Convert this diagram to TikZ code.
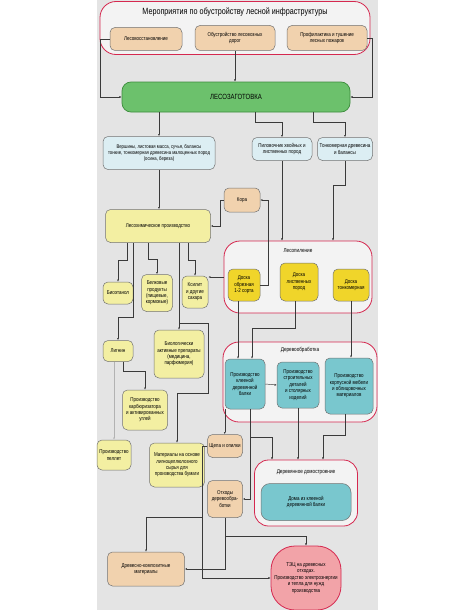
\documentclass[tikz,border=0pt]{standalone}
\usepackage{fontspec}
\setmainfont{Liberation Sans}[FakeStretch=0.8]
\usetikzlibrary{positioning,arrows.meta}

\definecolor{bgcol}{HTML}{E4E4E4}
\definecolor{grpred}{HTML}{D5284F}
\definecolor{grpfill}{HTML}{F3F3F3}
\definecolor{tanfill}{HTML}{F1D2AE}
\definecolor{greenfill}{HTML}{6CC16C}
\definecolor{greenline}{HTML}{3C8C3C}
\definecolor{bluefill}{HTML}{DCEEF3}
\definecolor{yelfill}{HTML}{F3EFA2}
\definecolor{goldfill}{HTML}{F0D52A}
\definecolor{cyanfill}{HTML}{79C7CE}
\definecolor{tecfill}{HTML}{F2A3A8}
\definecolor{linecol}{HTML}{3A3A3A}

\tikzset{
  box/.style={draw=black!55,line width=0.5pt,rounded corners=5pt,align=center,
    inner sep=1pt,font=\fontsize{5.6}{6.4}\selectfont},
  sz/.style 2 args={minimum width=#1pt,minimum height=#2pt},
  tanbox/.style={box,fill=tanfill},
  bluebox/.style={box,fill=bluefill},
  yelbox/.style={box,fill=yelfill},
  goldbox/.style={box,fill=goldfill},
  cyanbox/.style={box,fill=cyanfill},
  greenbox/.style={box,fill=greenfill,draw=greenline,line width=0.7pt,rounded corners=9pt,
    font=\fontsize{7.5}{8}\selectfont},
  tecbox/.style={box,fill=tecfill,draw=grpred,line width=0.8pt,rounded corners=24pt},
  group/.style={draw=grpred,line width=0.8pt,fill=grpfill,rounded corners=16pt},
  grptitle/.style={font=\fontsize{5.8}{7}\selectfont},
  conn/.style={draw=linecol,line width=0.45pt,-{Latex[length=2.2pt,width=2pt]}},
  faint/.style={draw=black!30}
}

\begin{document}
\begin{tikzpicture}[x=1pt,y=-1pt]
  \useasboundingbox (0,0) rectangle (474,610);
  \fill[bgcol] (97,0) rectangle (378,610);

  % верхний блок
  \node[group,minimum width=270pt,minimum height=53pt] (meropr) at (235,28) {};
  \node[font=\fontsize{9}{10}\selectfont] (meroprT) at (235,12) {Мероприятия по обустройству лесной инфраструктуры};
  \node[tanbox,sz={72}{23}] (lesvos) at (146,39) {Лесовосстановление};
  \node[tanbox,sz={80}{25}] (dorogi) at (235,38) {Обустройство лесовозных\\дорог};
  \node[tanbox,sz={80}{25}] (pozhar) at (327,38) {Профилактика и тушение\\лесных пожаров};

  \node[greenbox,minimum width=228pt,minimum height=30pt] (zagot) at (236,97) {ЛЕСОЗАГОТОВКА};

  % сырье
  \node[bluebox,sz={112}{33},font=\fontsize{5.3}{6.2}\selectfont] (vershiny) at (159,153)
    {Вершины, листовая масса, сучья, балансы\\тонкие, тонкомерная древесина малоценных пород\\(осина, береза)};
  \node[bluebox,sz={60}{23}] (pilov) at (282,149) {Пиловочник хвойных и\\лиственных пород};
  \node[bluebox,sz={55}{23}] (tonkom) at (345,149) {Тонкомерная древесина\\и балансы};

  \node[tanbox,sz={36}{24}] (kora) at (242,200) {Кора};
  \node[yelbox,sz={105}{33}] (leschem) at (158,226) {Лесохимическое производство};

  % лесопиление
  \node[group,minimum width=148pt,minimum height=72pt] (lesopil) at (298,277) {};
  \node[grptitle] (lesopilT) at (298,251) {Лесопиление};
  \node[goldbox,sz={32}{32}] (doska1) at (244,285) {Доска\\обрезная\\1-2 сорта};
  \node[goldbox,sz={38}{38}] (doska2) at (299,282) {Доска\\лиственных\\пород};
  \node[goldbox,sz={36}{32}] (doska3) at (351,285) {Доска\\тонкомерная};

  % лесохимия
  \node[yelbox,sz={30}{22}] (bioet) at (118,293) {Биоэтанол};
  \node[yelbox,sz={31}{37}] (belok) at (157,293) {Белковые\\продукты\\(пищевые,\\кормовые)};
  \node[yelbox,sz={26}{32}] (ksilit) at (195,292) {Ксилит\\и другие\\сахара};
  \node[yelbox,sz={30}{21}] (lignin) at (118,351) {Лигнин};
  \node[yelbox,sz={50}{48}] (biolog) at (179,354) {Биологически\\активные препараты\\(медицина,\\парфюмерия)};
  \node[yelbox,sz={45}{40}] (karbon) at (145,410) {Производство\\карбюризатора\\и активированных\\углей};
  \node[yelbox,sz={34}{30}] (pellet) at (114,455) {Производство\\пеллет};
  \node[yelbox,sz={55}{44}] (mater) at (177,465) {Материалы на основе\\лигноцеллюлозного\\сырья для\\производства бумаги};

  % деревообработка
  \node[group,minimum width=154pt,minimum height=80pt] (obrab) at (300,382) {};
  \node[grptitle] (obrabT) at (300,350) {Деревообработка};
  \node[cyanbox,sz={40}{50}] (klee) at (245,384) {Производство\\клееной\\деревянной\\балки};
  \node[cyanbox,sz={42}{46}] (stroit) at (298,385) {Производство\\строительных\\деталей\\и столярных\\изделий};
  \node[cyanbox,sz={48}{56}] (korpus) at (349,386) {Производство\\корпусной мебели\\и облицовочных\\материалов};

  \node[tanbox,sz={35}{23}] (shchepa) at (225,446) {Щепа и опилки};
  \node[tanbox,sz={35}{37}] (othody) at (225,499) {Отходы\\деревообра-\\ботки};

  % домостроение
  \node[group,minimum width=103pt,minimum height=66pt,rounded corners=14pt] (domstr) at (306,493) {};
  \node[grptitle] (domstrT) at (306,472) {Деревянное домостроение};
  \node[cyanbox,sz={90}{37},rounded corners=9pt] (doma) at (306,502) {Дома из клееной\\деревянной балки};

  \node[tanbox,sz={77}{34}] (kompoz) at (146,569) {Древесно-композитные\\материалы};
  \node[tecbox,sz={70}{64}] (tec) at (306,578) {ТЭЦ на древесных\\отходах.\\Производство электроэнергии\\и тепла для нужд\\производства};

  % связи
  \draw[conn] (lesvos.west) -- ++(-10,0) |- (zagot.west);
  \draw[conn] (dorogi.south) -- (dorogi.south |- zagot.north);
  \draw[conn] (pozhar.east) -- ++(5,0) |- (zagot.east);

  \draw[conn] (zagot.south -| vershiny.north) -- (vershiny.north);
  \draw[conn] ([xshift=19pt]zagot.south) -- ++(0,10) -| (pilov.north);
  \draw[conn] ([xshift=77pt]zagot.south) -- ++(0,10) -| (tonkom.north);

  \draw[conn] (vershiny.south) -- (vershiny.south |- leschem.north);
  \draw[conn] (doska1.east) -- ++(8,0) |- (kora.east);
  \draw[conn] (kora.west) -- ++(-4,0) |- (leschem.east);
  \draw[conn] (pilov.south) -- (pilov.south |- lesopil.north);
  \draw[conn] (tonkom.south) -- ++(0,24) -| ([xshift=35pt]lesopil.north);

  \draw[conn] ([xshift=-31pt]leschem.south) -- ++(0,17) -| (bioet.north);
  \draw[conn] ([xshift=-10pt]leschem.south) -- ++(0,16) -| (belok.north);
  \draw[conn] ([xshift=30pt]leschem.south) -- ++(0,17) -| (ksilit.north);
  \draw[conn] ([xshift=-25pt]leschem.south) -- ++(0,74) -| (lignin.north);
  \draw[conn] ([xshift=21pt]leschem.south) -- (biolog.north);
  \draw[conn] ([xshift=21pt]leschem.south) ++(0,80) -| ++(29,70) -| (mater.north);
  \draw[conn] (lesopil.west) -- (lesopil.west -| ksilit.east);

  \draw[conn] ([xshift=5pt]lignin.south) -- ++(0,9) -| (karbon.north);
  \draw[conn,faint] ([xshift=-4pt]lignin.south) -- (pellet.north);

  \draw[conn] ([xshift=-6pt]doska1.south) -- ([xshift=-7pt]klee.north);
  \draw[conn] ([xshift=-4pt]doska2.south) -- ++(0,27) -| ([xshift=7pt]klee.north);
  \draw[conn] (doska3.south) -- (doska3.south |- korpus.north);
  \draw[conn] (klee.east) -- (stroit.west);

  \draw[conn] ([xshift=5pt]klee.south) |- (othody.east);
  \draw[conn] ([xshift=5pt]klee.south) ++(0,28) -| ([xshift=-34pt]domstr.north);
  \draw[conn] (stroit.south) -- (stroit.south |- domstr.north);
  \draw[conn] ([xshift=-4pt]korpus.south) -- ++(0,21) -| ([xshift=17pt]domstr.north);
  \draw[conn] (klee.south west) -- (klee.south west |- shchepa.north);

  \draw[conn] (shchepa.west) -- ++(-5,0) |- (tec.west);
  \draw[conn] (shchepa.west) ++(-5,0) ++(0,71) -| (kompoz.north);
  \draw[conn] (othody.south) |- (kompoz.east);
  \draw[conn] (othody.south) ++(0,18) -| (tec.north);
\end{tikzpicture}
\end{document}
